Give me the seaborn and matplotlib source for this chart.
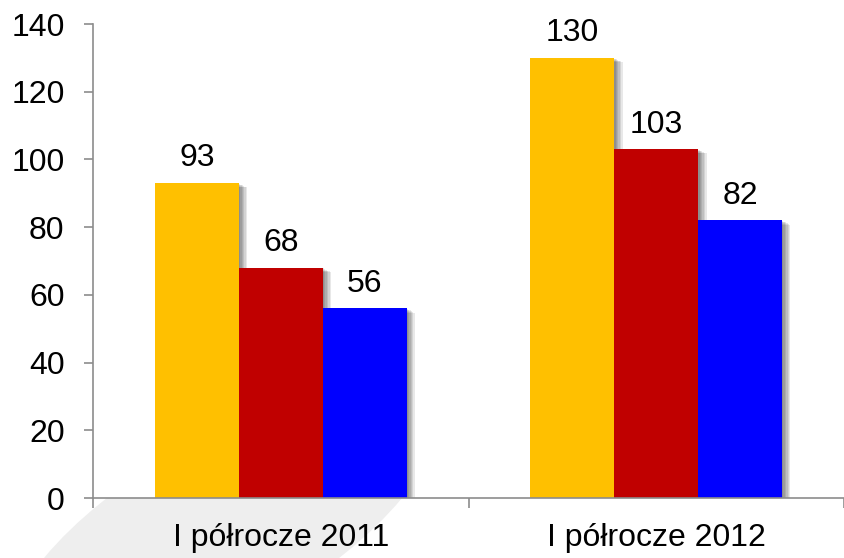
import matplotlib
matplotlib.use("Agg")
import matplotlib.pyplot as plt
import matplotlib.patheffects as pe
from matplotlib.patches import Ellipse
from matplotlib.ticker import FixedLocator
import seaborn as sns
import pandas as pd

# ---------- DATA ----------
okresy = ["I półrocze 2011", "I półrocze 2012"]
serie = ["Seria 1", "Seria 2", "Seria 3"]
wartosci_seria1 = [93, 130]
wartosci_seria2 = [68, 103]
wartosci_seria3 = [56, 82]
kolory = ["#FFC000", "#C00000", "#0000FF"]
y_ticks = [0, 20, 40, 60, 80, 100, 120, 140]

rows = []
for seria, vals in zip(serie, [wartosci_seria1, wartosci_seria2, wartosci_seria3]):
    for okres, v in zip(okresy, vals):
        rows.append({"okres": okres, "seria": seria, "wartosc": v})
df = pd.DataFrame(rows)

# ---------- STYLE ----------
sns.set_style("white")
plt.rcParams["font.family"] = ["Liberation Sans", "DejaVu Sans"]
AXIS_GRAY = "#8c8c8c"
FS = 23

fig = plt.figure(figsize=(8.44, 5.58), dpi=100)
W, H = 844, 558

# faint decorative swoosh behind the chart (inch coordinates)
swoosh = Ellipse((2.23, 0.30), 4.8, 1.8, angle=30,
                 transform=fig.dpi_scale_trans, facecolor="#eeeeee",
                 edgecolor="none", zorder=-5)
fig.patches.append(swoosh)

ax = fig.add_axes([93 / W, 60 / H, (W - 93) / W, 474 / H])
ax.set_facecolor("white")
ax.set_zorder(1)

sns.barplot(data=df, x="okres", y="wartosc", hue="seria", order=okresy,
            hue_order=serie, palette=kolory, saturation=1, width=0.67,
            linewidth=0, legend=False, ax=ax)

# soft drop shadow on the bars
shadow = [pe.SimplePatchShadow(offset=(o, -o * 0.5), shadow_rgbFace="black", alpha=0.09)
          for o in (1, 2, 3, 4, 5, 6)] + [pe.Normal()]
for bar in ax.patches:
    bar.set_path_effects(shadow)

for cont in ax.containers:
    ax.bar_label(cont, fmt="%.0f", fontsize=FS, padding=7, color="black")

ax.set_xlim(-0.5, 1.5)
ax.set_ylim(0, 140)
ax.set_yticks(y_ticks)
ax.set_xlabel("")
ax.set_ylabel("")

for side in ["top", "right"]:
    ax.spines[side].set_visible(False)
for side in ["left", "bottom"]:
    ax.spines[side].set_color(AXIS_GRAY)
    ax.spines[side].set_linewidth(1.2)

ax.tick_params(axis="y", which="major", direction="out", length=6.5, width=1.2,
               color=AXIS_GRAY, pad=14, labelsize=FS, labelcolor="black", left=True)
ax.tick_params(axis="x", which="major", length=0, pad=18, labelsize=FS, labelcolor="black")
ax.xaxis.set_minor_locator(FixedLocator([-0.5, 0.5, 1.5]))
ax.tick_params(axis="x", which="minor", direction="out", length=7, width=1.2,
               color=AXIS_GRAY, bottom=True)

fig.savefig("out.png", dpi=100)
